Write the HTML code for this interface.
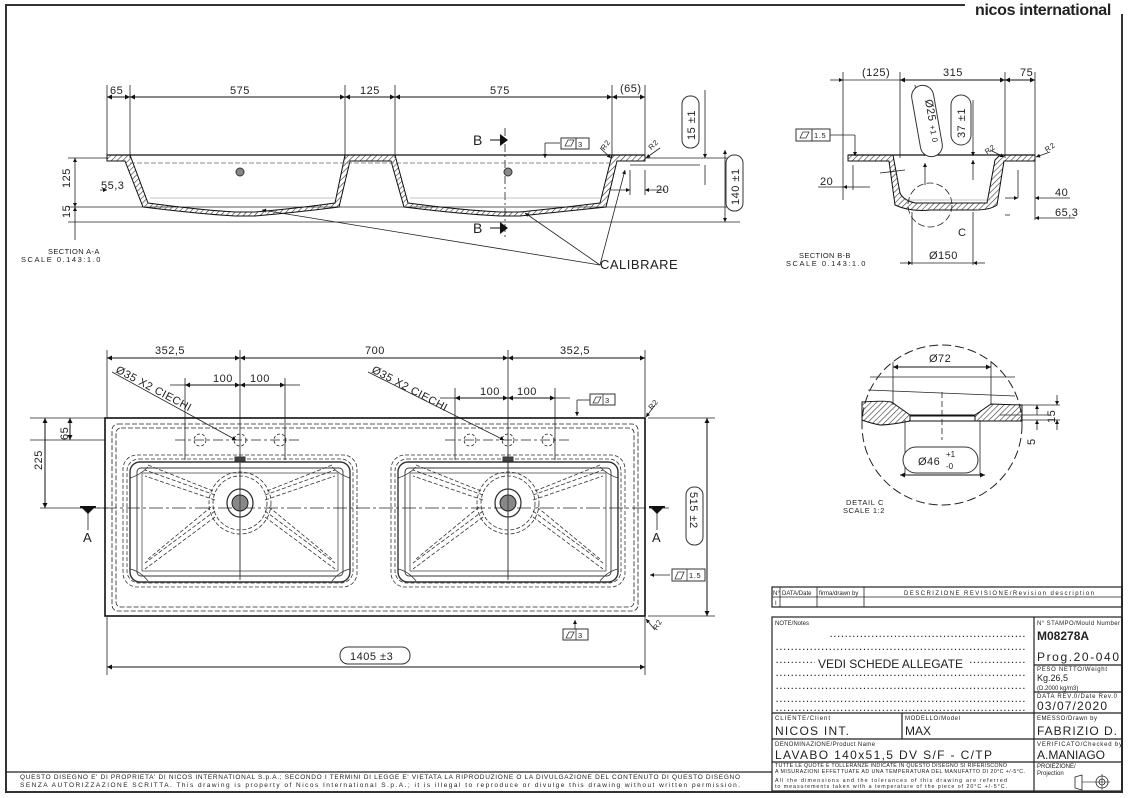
<!DOCTYPE html>
<html><head><meta charset="utf-8"><style>
html,body{margin:0;padding:0;background:#fff}
svg{display:block}
text{font-family:"Liberation Sans",sans-serif;fill:#222}
.t{font-size:11px;letter-spacing:0.5px}
.s{font-size:7.5px;letter-spacing:0.6px}
</style></head><body>
<svg width="1129" height="798" viewBox="0 0 1129 798" xmlns="http://www.w3.org/2000/svg">
<defs>
<pattern id="h" width="4" height="4" patternUnits="userSpaceOnUse" patternTransform="rotate(45)"><line x1="0" y1="0" x2="0" y2="4" stroke="#333" stroke-width="1.2"/></pattern>
<marker id="a" viewBox="0 0 10 10" refX="10" refY="5" markerWidth="7" markerHeight="5" orient="auto-start-reverse"><path d="M0,0L10,5L0,10z" fill="#111"/></marker>
<g id="basin" fill="none" stroke="#333">
 <rect x="-117" y="-48" width="234" height="132" rx="14" stroke-dasharray="4 2" stroke-width="0.8"/>
 <rect x="-113" y="-44" width="226" height="124" rx="12" stroke-dasharray="4 2" stroke-width="0.8"/>
 <rect x="-110" y="-41" width="220" height="120" rx="10" stroke-width="1.4"/>
 <rect x="-103" y="-35" width="206" height="108" rx="4" stroke-width="0.9"/>
 <rect x="-98" y="-30" width="196" height="98" stroke-width="0.7"/>
 <circle cx="0" cy="0" r="27" stroke-dasharray="4 2" stroke-width="0.8"/>
 <circle cx="0" cy="0" r="31" stroke-dasharray="4 2" stroke-width="0.8"/>
 <path d="M-25,-8L-95,-33M-25,-3L-95,-27M-27,-12L-92,-38M25,-8L95,-33M25,-3L95,-27M27,-12L92,-38M-25,8L-95,60M-25,14L-95,66M-29,4L-92,56M25,8L95,60M25,14L95,66M29,4L92,56" stroke-dasharray="4 2" stroke-width="0.8"/>
 <path d="M-110,-25Q-100,-28 -92,-36M110,-25Q100,-28 92,-36M-110,66Q-100,68 -92,78M110,66Q100,68 92,78" stroke-width="0.8"/>
 <ellipse cx="0" cy="0" rx="13" ry="14" stroke-width="1.3"/>
 <circle cx="0" cy="0" r="8" fill="#888" stroke="#222"/>
 <line x1="0" y1="-50" x2="0" y2="72" stroke-width="0.8"/>
 <rect x="-5" y="-46" width="10" height="4" fill="#444"/>
</g>
</defs>

<!-- frame -->
<path d="M965,5H6V792H1122V14" fill="none" stroke="#333" stroke-width="2"/>
<text x="975" y="15" style="font-size:16px;font-weight:bold;letter-spacing:-0.3px" textLength="136">nicos international</text>

<!-- ============ SECTION A-A ============ -->
<g stroke="#222" fill="none" stroke-width="0.8">
 <line x1="107" y1="97" x2="645" y2="97"/>
 <line x1="107" y1="85" x2="107" y2="158"/><line x1="130" y1="85" x2="130" y2="158"/>
 <line x1="345" y1="85" x2="345" y2="158"/><line x1="395" y1="85" x2="395" y2="158"/>
 <line x1="612" y1="85" x2="612" y2="158"/><line x1="645" y1="85" x2="645" y2="158"/>
 <line x1="68" y1="158" x2="108" y2="158"/>
 <line x1="68" y1="207" x2="740" y2="207"/>
 <line x1="68" y1="222" x2="740" y2="222"/>
 <line x1="75" y1="158" x2="75" y2="207" marker-start="url(#a)" marker-end="url(#a)"/>
 <line x1="75" y1="207" x2="75" y2="240" marker-start="url(#a)"/>
 <line x1="645" y1="158" x2="740" y2="158"/>
 <line x1="725" y1="150" x2="725" y2="222" marker-start="url(#a)" marker-end="url(#a)"/>
 <line x1="705" y1="90" x2="705" y2="158" marker-end="url(#a)"/>
 <line x1="705" y1="165" x2="705" y2="185"/>
 <line x1="630" y1="165" x2="700" y2="165"/>
 <line x1="630" y1="170" x2="630" y2="195"/><line x1="645" y1="170" x2="645" y2="195"/>
 <line x1="610" y1="190" x2="630" y2="190" marker-end="url(#a)"/><line x1="665" y1="190" x2="645" y2="190" marker-end="url(#a)"/>
 <line x1="100" y1="190" x2="107" y2="190" marker-end="url(#a)"/>
 <line x1="505" y1="128" x2="505" y2="240" stroke-dasharray="8 3 2 3"/>
 <line x1="545" y1="143" x2="560" y2="143"/><line x1="545" y1="143" x2="545" y2="158" marker-end="url(#a)"/>
 <line x1="600" y1="265" x2="262" y2="210" marker-end="url(#a)"/>
 <line x1="600" y1="265" x2="525" y2="213" marker-end="url(#a)"/>
 <line x1="600" y1="265" x2="625" y2="170" marker-end="url(#a)"/>
 <line x1="600" y1="148" x2="611" y2="158" marker-end="url(#a)"/>
 <line x1="660" y1="148" x2="646" y2="158" marker-end="url(#a)"/>
</g>
<g stroke="#111" stroke-width="1" marker-start="url(#a)" marker-end="url(#a)">
 <line x1="107" y1="97" x2="130" y2="97"/><line x1="130" y1="97" x2="345" y2="97"/>
 <line x1="345" y1="97" x2="395" y2="97"/><line x1="395" y1="97" x2="612" y2="97"/>
 <line x1="612" y1="97" x2="645" y2="97"/>
</g>
<path d="M107,155H130L148,203Q200,210 235,212H255Q300,208 335,203L345,155H395L408,203Q460,210 500,212H520Q560,208 600,203L612,155H645V161H617L606,207Q560,212 520,216H500Q460,214 404,207L391,161H350L339,207Q300,212 255,216H235Q200,214 143,207L125,161H107Z" fill="url(#h)" stroke="#111" stroke-width="1"/>
<line x1="107" y1="155" x2="645" y2="155" stroke="#111" stroke-width="1.2"/>
<line x1="130" y1="163" x2="612" y2="163" stroke="#666" stroke-dasharray="5 2" stroke-width="0.8"/>
<line x1="150" y1="198" x2="335" y2="198" stroke="#888" stroke-width="0.6"/>
<line x1="410" y1="198" x2="600" y2="198" stroke="#888" stroke-width="0.6"/>
<circle cx="240" cy="172" r="4" fill="#888" stroke="#333"/>
<circle cx="508" cy="172" r="4" fill="#888" stroke="#333"/>
<g stroke="#111" stroke-width="1"><line x1="490" y1="140" x2="500" y2="140"/><line x1="490" y1="228" x2="500" y2="228"/></g>
<path d="M500,134L508,140L500,146Z M500,222L508,228L500,234Z" fill="#111"/>
<text x="473" y="145" style="font-size:14px">B</text><text x="473" y="233" style="font-size:14px">B</text>
<g class="t">
<text x="110" y="94">65</text><text x="230" y="94">575</text><text x="360" y="94">125</text>
<text x="490" y="94">575</text><text x="620" y="92">(65)</text>
<text x="101" y="189">55,3</text><text x="656" y="193">20</text>
</g>
<text class="t" transform="translate(70,188) rotate(-90)">125</text>
<text class="t" transform="translate(70,218) rotate(-90)">15</text>
<rect x="682" y="96" width="17" height="52" rx="8" fill="none" stroke="#333"/>
<text class="t" transform="translate(695,140) rotate(-90)">15 ±1</text>
<rect x="726" y="155" width="17" height="56" rx="8" fill="#fff" stroke="#333"/>
<text class="t" transform="translate(739,205) rotate(-90)">140 ±1</text>
<rect x="561" y="138" width="28" height="11" fill="none" stroke="#333"/><line x1="576" y1="138" x2="576" y2="149" stroke="#333"/>
<text class="s" x="578" y="147">3</text><path d="M565,146L568,140H574L571,146Z" fill="none" stroke="#333" stroke-width="0.8"/>
<text class="s" x="600" y="150" transform="rotate(-55 603 146)">R2</text>
<text class="s" x="648" y="150" transform="rotate(-45 650 146)">R2</text>
<text class="s" x="48" y="254" textLength="52">SECTION A-A</text><text class="s" x="21" y="262" textLength="80">SCALE 0.143:1.0</text>
<text x="600" y="269" style="font-size:13px;letter-spacing:0.5px">CALIBRARE</text>

<!-- ============ SECTION B-B ============ -->
<g stroke="#222" fill="none" stroke-width="0.8">
 <line x1="843" y1="80" x2="1035" y2="80"/>
 <line x1="843" y1="72" x2="843" y2="200"/><line x1="900" y1="72" x2="900" y2="158"/>
 <line x1="1005" y1="72" x2="1005" y2="158"/><line x1="1035" y1="72" x2="1035" y2="220"/>
 <line x1="830" y1="80" x2="843" y2="80" marker-end="url(#a)"/>
 <line x1="855" y1="187" x2="843" y2="187" marker-end="url(#a)"/><line x1="818" y1="187" x2="843" y2="187"/>
 <line x1="855" y1="187" x2="870" y2="187"/><line x1="853" y1="165" x2="853" y2="190"/>
 <line x1="1018" y1="170" x2="1018" y2="198"/><line x1="1018" y1="198" x2="1005" y2="198" marker-start="url(#a)"/>
 <line x1="1070" y1="198" x2="1035" y2="198" marker-end="url(#a)"/>
 <line x1="1010" y1="215" x2="1005" y2="215"/><line x1="1075" y1="218" x2="1035" y2="218" marker-end="url(#a)"/>
 <line x1="912" y1="212" x2="912" y2="265"/><line x1="973" y1="212" x2="973" y2="265"/>
 <line x1="900" y1="263" x2="912" y2="263" marker-end="url(#a)"/><line x1="985" y1="263" x2="973" y2="263" marker-end="url(#a)"/>
 <line x1="912" y1="263" x2="973" y2="263"/>
 <line x1="830" y1="135" x2="855" y2="135"/><line x1="855" y1="135" x2="855" y2="156" marker-end="url(#a)"/>
 <line x1="973" y1="100" x2="973" y2="156" marker-end="url(#a)"/><line x1="973" y1="180" x2="973" y2="160" marker-end="url(#a)"/>
 <line x1="915" y1="85" x2="925" y2="156" marker-end="url(#a)"/><line x1="925" y1="185" x2="925" y2="163" marker-end="url(#a)"/>
 <line x1="880" y1="173" x2="905" y2="170"/>
 <line x1="990" y1="150" x2="1004" y2="157" marker-end="url(#a)"/><line x1="1050" y1="152" x2="1036" y2="157" marker-end="url(#a)"/>
 <circle cx="930" cy="205" r="22" stroke-dasharray="7 3"/>
</g>
<g stroke="#111" stroke-width="1" marker-start="url(#a)" marker-end="url(#a)">
 <line x1="900" y1="80" x2="1005" y2="80"/><line x1="1005" y1="80" x2="1035" y2="80"/>
</g>
<path d="M848,155H893L900,193Q903,200 915,203H987L995,160L1000,155H1035V161H1004L997,205Q990,210 975,210H930Q910,212 895,205L889,161H848Z" fill="url(#h)" stroke="#111"/>
<line x1="848" y1="155" x2="1035" y2="155" stroke="#111" stroke-width="1.2"/>
<line x1="905" y1="200" x2="990" y2="200" stroke="#888" stroke-width="0.6"/>
<rect x="916" y="85" width="22" height="72" rx="11" fill="#fff" stroke="#333" transform="rotate(-10 927 121)"/>
<text class="t" transform="translate(925,100) rotate(80)">Ø25 <tspan style="font-size:8px">+1 0</tspan></text>
<rect x="951" y="95" width="20" height="50" rx="10" fill="#fff" stroke="#333"/>
<text class="t" transform="translate(965,138) rotate(-90)">37 ±1</text>
<rect x="796" y="129" width="34" height="12" fill="#fff" stroke="#333"/><line x1="812" y1="129" x2="812" y2="141" stroke="#333"/>
<path d="M800,138L803,132H809L806,138Z" fill="none" stroke="#333" stroke-width="0.8"/><text class="s" x="814" y="138">1.5</text>
<g class="t"><text x="862" y="76">(125)</text><text x="943" y="76">315</text><text x="1020" y="76">75</text>
<text x="820" y="185">20</text><text x="1055" y="196">40</text><text x="1055" y="216">65,3</text>
<text x="929" y="259">Ø150</text><text x="958" y="236">C</text></g>
<text class="s" x="985" y="152" transform="rotate(-35 990 150)">R2</text>
<text class="s" x="1045" y="150" transform="rotate(-35 1050 148)">R2</text>
<text class="s" x="799" y="258" textLength="52">SECTION B-B</text><text class="s" x="786" y="266" textLength="80">SCALE 0.143:1.0</text>

<!-- ============ PLAN ============ -->
<g stroke="#222" fill="none" stroke-width="0.8">
 <line x1="107" y1="350" x2="107" y2="418"/><line x1="240" y1="350" x2="240" y2="580"/>
 <line x1="508" y1="350" x2="508" y2="580"/><line x1="645" y1="350" x2="645" y2="418"/>
 <line x1="185" y1="378" x2="185" y2="460"/><line x1="285" y1="378" x2="285" y2="460"/>
 <line x1="455" y1="388" x2="455" y2="460"/><line x1="555" y1="388" x2="555" y2="460"/>
 <line x1="170" y1="385" x2="185" y2="385"/><line x1="285" y1="385" x2="300" y2="385"/>
 <line x1="440" y1="398" x2="455" y2="398"/><line x1="555" y1="398" x2="570" y2="398"/>
 <line x1="30" y1="418" x2="105" y2="418"/><line x1="30" y1="440" x2="105" y2="440"/>
 <line x1="40" y1="508" x2="108" y2="508"/>
 <line x1="648" y1="418" x2="715" y2="418"/><line x1="648" y1="616" x2="715" y2="616"/>
 <line x1="107" y1="617" x2="107" y2="675"/><line x1="645" y1="617" x2="645" y2="675"/>
 <line x1="80" y1="508" x2="670" y2="508" stroke-dasharray="14 3 3 3"/>
 <line x1="175" y1="440" x2="300" y2="440" stroke-dasharray="10 3 3 3"/>
 <line x1="445" y1="440" x2="570" y2="440" stroke-dasharray="10 3 3 3"/>
 <circle cx="200" cy="440" r="6" stroke-dasharray="3 2"/><circle cx="240" cy="440" r="6" stroke-dasharray="3 2"/><circle cx="280" cy="440" r="6" stroke-dasharray="3 2"/>
 <circle cx="470" cy="440" r="6" stroke-dasharray="3 2"/><circle cx="508" cy="440" r="6" stroke-dasharray="3 2"/><circle cx="548" cy="440" r="6" stroke-dasharray="3 2"/>
 <line x1="112" y1="372" x2="236" y2="440" marker-end="url(#a)"/>
 <line x1="368" y1="372" x2="504" y2="440" marker-end="url(#a)"/>
 <rect x="112" y="424" width="526" height="187" rx="6" stroke-dasharray="5 2"/>
 <rect x="116" y="428" width="518" height="179" rx="5" stroke-dasharray="5 2"/>
 <line x1="577" y1="400" x2="577" y2="416" marker-end="url(#a)"/><line x1="577" y1="400" x2="590" y2="400"/>
 <line x1="575" y1="636" x2="575" y2="620" marker-end="url(#a)"/>
 <line x1="670" y1="575" x2="650" y2="575" marker-end="url(#a)"/>
 <line x1="655" y1="405" x2="646" y2="417" marker-end="url(#a)"/>
 <line x1="655" y1="630" x2="646" y2="619" marker-end="url(#a)"/>
 <line x1="88" y1="508" x2="88" y2="530"/><line x1="657" y1="508" x2="657" y2="530"/>
</g>
<g stroke="#111" stroke-width="1" marker-start="url(#a)" marker-end="url(#a)">
 <line x1="107" y1="358" x2="240" y2="358"/><line x1="240" y1="358" x2="508" y2="358"/><line x1="508" y1="358" x2="645" y2="358"/>
 <line x1="185" y1="385" x2="240" y2="385"/><line x1="240" y1="385" x2="285" y2="385"/>
 <line x1="455" y1="398" x2="508" y2="398"/><line x1="508" y1="398" x2="555" y2="398"/>
 <line x1="45" y1="418" x2="45" y2="508"/><line x1="70" y1="418" x2="70" y2="440"/>
 <line x1="707" y1="418" x2="707" y2="616"/><line x1="107" y1="667" x2="645" y2="667"/>
</g>
<rect x="105" y="418" width="540" height="198" fill="none" stroke="#111" stroke-width="1.6"/>
<use href="#basin" x="240" y="503"/>
<use href="#basin" x="508" y="503"/>
<path d="M80,506H96L88,514Z M649,506H665L657,514Z" fill="#111"/>
<line x1="80" y1="507" x2="96" y2="507" stroke="#111" stroke-width="1.5"/><line x1="649" y1="507" x2="665" y2="507" stroke="#111" stroke-width="1.5"/>
<text x="83" y="542" style="font-size:13px">A</text><text x="652" y="542" style="font-size:13px">A</text>
<g class="t"><text x="155" y="354">352,5</text><text x="365" y="354">700</text><text x="560" y="354">352,5</text>
<text x="213" y="382">100</text><text x="250" y="382">100</text><text x="480" y="395">100</text><text x="517" y="395">100</text></g>
<text class="t" transform="translate(115,372) rotate(28)">Ø35 X2 CIECHI</text>
<text class="t" transform="translate(371,372) rotate(28)">Ø35 X2 CIECHI</text>
<text class="t" transform="translate(42,470) rotate(-90)">225</text>
<text class="t" transform="translate(68,440) rotate(-90)">65</text>
<rect x="686" y="487" width="17" height="58" rx="8" fill="#fff" stroke="#333"/>
<text class="t" transform="translate(690,492) rotate(90)">515 ±2</text>
<rect x="340" y="647" width="70" height="17" rx="8" fill="#fff" stroke="#333"/>
<text class="t" x="350" y="660">1405 ±3</text>
<g fill="#fff" stroke="#333"><rect x="590" y="394" width="25" height="11"/><rect x="563" y="629" width="25" height="11"/><rect x="672" y="569" width="33" height="12"/></g>
<g stroke="#333" fill="none" stroke-width="0.8"><line x1="603" y1="394" x2="603" y2="405"/><line x1="576" y1="629" x2="576" y2="640"/><line x1="687" y1="569" x2="687" y2="581"/>
<path d="M593,403L596,397H601L598,403Z M566,638L569,632H574L571,638Z M675,579L678,572H684L681,579Z"/></g>
<g class="s"><text x="605" y="403">3</text><text x="578" y="638">3</text><text x="689" y="578">1.5</text></g>
<text class="s" x="648" y="410" transform="rotate(-50 650 406)">R2</text>
<text class="s" x="652" y="630" transform="rotate(-60 655 626)">R2</text>

<!-- ============ DETAIL C ============ -->
<circle cx="942" cy="425" r="80" fill="none" stroke="#222" stroke-dasharray="9 4"/>
<g stroke="#222" fill="none" stroke-width="0.8">
 <line x1="893" y1="362" x2="893" y2="405"/><line x1="991" y1="362" x2="991" y2="405"/>
 <line x1="905" y1="420" x2="905" y2="475"/><line x1="980" y1="420" x2="980" y2="475"/>
 <line x1="870" y1="377" x2="1015" y2="377"/><line x1="868" y1="390" x2="1015" y2="396"/>
 <line x1="942" y1="392" x2="942" y2="440" stroke-dasharray="6 3"/>
 <line x1="1020" y1="405" x2="1060" y2="405"/><line x1="1020" y1="420" x2="1060" y2="420"/><line x1="1000" y1="415" x2="1050" y2="415"/>
 <line x1="1057" y1="395" x2="1057" y2="405" marker-end="url(#a)"/><line x1="1057" y1="430" x2="1057" y2="420" marker-end="url(#a)"/>
 <line x1="1037" y1="405" x2="1037" y2="415" marker-start="url(#a)"/><line x1="1037" y1="430" x2="1037" y2="420" marker-end="url(#a)"/>
</g>
<g stroke="#111" stroke-width="1" marker-start="url(#a)" marker-end="url(#a)">
 <line x1="893" y1="367" x2="991" y2="367"/><line x1="900" y1="475" x2="985" y2="475"/>
</g>
<path d="M862,402Q890,400 893,403L910,415H975L991,404L1022,405V421H975V416H910V421Q890,425 880,425Q870,423 862,420Z" fill="url(#h)" stroke="#111"/>
<line x1="910" y1="421" x2="975" y2="421" stroke="#111"/>
<rect x="903" y="447" width="75" height="26" rx="13" fill="#fff" stroke="#333"/>
<text class="t" x="918" y="465">Ø46</text><text x="946" y="457" style="font-size:8px">+1</text><text x="946" y="469" style="font-size:8px">-0</text>
<text class="t" x="929" y="362">Ø72</text>
<text class="t" transform="translate(1055,423) rotate(-90)">15</text>
<text class="t" transform="translate(1035,445) rotate(-90)">5</text>
<text class="s" x="846" y="505" textLength="38">DETAIL C</text><text class="s" x="843" y="513" textLength="42">SCALE 1:2</text>

<!-- ============ TITLE BLOCK ============ -->
<g stroke="#222" fill="none" stroke-width="1.2">
 <rect x="772" y="587" width="350" height="20"/>
 <line x1="772" y1="597" x2="1122" y2="597" stroke-width="0.8"/>
 <line x1="780" y1="587" x2="780" y2="607" stroke-width="0.8"/><line x1="817" y1="587" x2="817" y2="607" stroke-width="0.8"/><line x1="864" y1="587" x2="864" y2="607" stroke-width="0.8"/>
 <rect x="772" y="617" width="350" height="174"/>
 <line x1="1034" y1="617" x2="1034" y2="791"/>
 <line x1="1034" y1="665" x2="1122" y2="665"/><line x1="1034" y1="692" x2="1122" y2="692"/>
 <line x1="772" y1="713" x2="1122" y2="713"/><line x1="772" y1="739" x2="1122" y2="739"/><line x1="772" y1="762" x2="1122" y2="762"/>
 <line x1="902" y1="713" x2="902" y2="739"/>
 <line x1="6" y1="772" x2="772" y2="772"/>
 <path d="M1075,777L1082,775V790L1075,788Z" stroke-width="0.8"/>
 <line x1="1082" y1="782" x2="1094" y2="782" stroke-width="0.6"/>
 <circle cx="1102" cy="782" r="6" stroke-width="0.8"/><circle cx="1102" cy="782" r="3" stroke-width="0.8"/>
 <line x1="1094" y1="782" x2="1110" y2="782" stroke-width="0.6"/><line x1="1102" y1="774" x2="1102" y2="790" stroke-width="0.6"/>
</g>
<g style="font-size:6px">
<text x="773" y="595">N°</text><text x="782" y="595">DATA/Date</text><text x="819" y="595">firma/drawn by</text>
<text x="904" y="595" textLength="190">DESCRIZIONE REVISIONE/Revision description</text><text x="775" y="605">I</text>
<text x="775" y="625">NOTE/Notes</text>
<text x="1037" y="625" textLength="83">N° STAMPO/Mould Number</text>
<text x="1037" y="671" textLength="70">PESO NETTO/Weight</text>
<text x="1037" y="698" textLength="80">DATA REV.0/Date Rev.0</text>
<text x="775" y="720" textLength="55">CLIENTE/Client</text><text x="905" y="720" textLength="55">MODELLO/Model</text>
<text x="1037" y="720" textLength="60">EMESSO/Drawn by</text>
<text x="775" y="746" textLength="100">DENOMINAZIONE/Product Name</text>
<text x="1037" y="746" textLength="85">VERIFICATO/Checked by</text>
<text x="775" y="767" style="font-size:5.3px" textLength="232">TUTTE LE QUOTE E TOLLERANZE INDICATE IN QUESTO DISEGNO SI RIFERISCONO</text>
<text x="775" y="773" style="font-size:5.3px" textLength="250">A MISURAZIONI EFFETTUATE AD UNA TEMPERATURA DEL MANUFATTO DI 20°C +/-5°C.</text>
<text x="775" y="782" style="font-size:5.3px" textLength="232">All the dimensions and the tolerances of this drawing are referred</text>
<text x="775" y="788" style="font-size:5.3px" textLength="232">to measurements taken with a temperature of the piece of 20°C +/-5°C.</text>
<text x="1037" y="768">PROIEZIONE/</text><text x="1037" y="775">Projection</text>
<text x="20" y="779" style="font-size:6.5px" textLength="720">QUESTO DISEGNO E' DI PROPRIETA' DI NICOS INTERNATIONAL S.p.A.; SECONDO I TERMINI DI LEGGE E' VIETATA LA RIPRODUZIONE O LA DIVULGAZIONE DEL CONTENUTO DI QUESTO DISEGNO</text>
<text x="20" y="787" style="font-size:6.5px" textLength="720">SENZA AUTORIZZAZIONE SCRITTA. This drawing is property of Nicos International S.p.A.; it is illegal to reproduce or divulge this drawing without written permission.</text>
</g>
<g style="font-size:8px;font-weight:bold" fill="#444">
<text x="830" y="637" textLength="195">....................................................</text>
<text x="776" y="650" textLength="249">..................................................................</text>
<text x="776" y="663" textLength="249">..................................................................</text>
<text x="776" y="676" textLength="249">..................................................................</text>
<text x="776" y="689" textLength="249">..................................................................</text>
<text x="776" y="702" textLength="249">..................................................................</text>
<text x="776" y="711" textLength="249">..................................................................</text>
</g>
<rect x="815" y="657" width="155" height="13" fill="#fff"/>
<g style="font-size:12px">
<text x="818" y="668" textLength="145">VEDI SCHEDE ALLEGATE</text>
<text x="1037" y="640" style="font-size:12px;font-weight:bold">M08278A</text>
<text x="1037" y="661" textLength="82">Prog.20-040</text>
<text x="1037" y="681" style="font-size:9px">Kg.26,5</text>
<text x="1037" y="690" style="font-size:6px">(D.2000 kg/m3)</text>
<text x="1037" y="710" textLength="70">03/07/2020</text>
<text x="775" y="735" textLength="74">NICOS INT.</text><text x="905" y="735">MAX</text>
<text x="1037" y="735" textLength="80">FABRIZIO D.</text>
<text x="775" y="759" textLength="217">LAVABO 140x51,5 DV S/F - C/TP</text>
<text x="1037" y="759" textLength="68">A.MANIAGO</text>
</g>
</svg>
</body></html>
